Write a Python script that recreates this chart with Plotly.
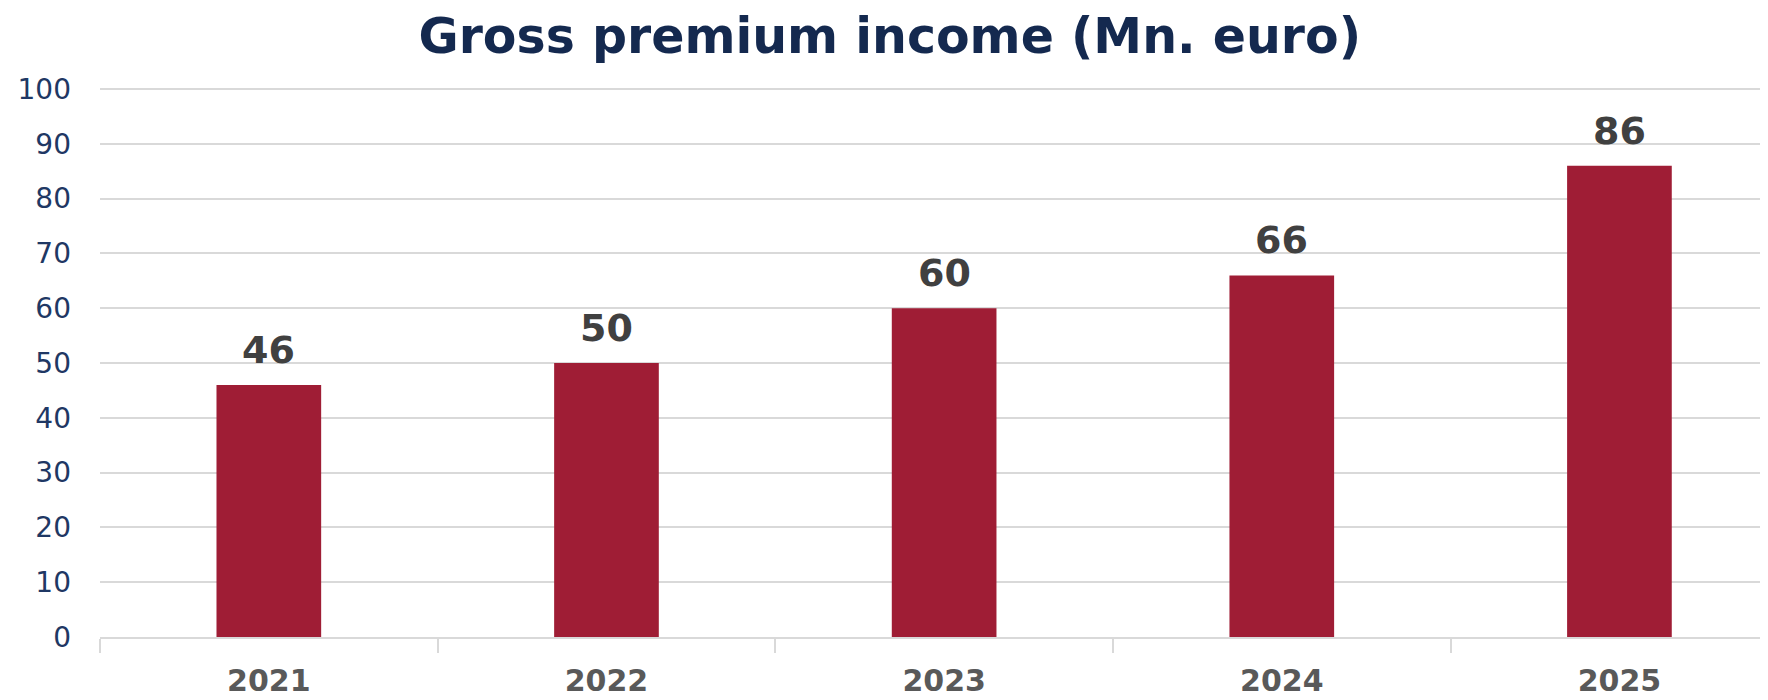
import plotly.graph_objects as go

years = ["2021", "2022", "2023", "2024", "2025"]
premium = [46, 50, 60, 66, 86]
y_ticks = [0, 10, 20, 30, 40, 50, 60, 70, 80, 90, 100]

bar_color = "#9F1D35"
title_color = "#14294F"
font_family = "DejaVu Sans, sans-serif"

fig = go.Figure()
fig.add_trace(go.Bar(
    x=years, y=premium, width=0.31,
    marker=dict(color=bar_color, line=dict(width=0)),
    hoverinfo="skip",
))

for i, v in enumerate(premium):
    fig.add_annotation(
        x=i, y=v, text=f"<b>{v}</b>", showarrow=False,
        yanchor="bottom", yshift=11,
        font=dict(family=font_family, size=38, color="#404040"),
    )

fig.update_layout(
    width=1760, height=692,
    paper_bgcolor="white", plot_bgcolor="white",
    margin=dict(l=92, r=0, t=80, b=63, autoexpand=False),
    showlegend=False,
    title=dict(
        text="<b>Gross premium income (Mn. euro)</b>",
        x=0.501, xanchor="center", y=0.9595, yanchor="middle",
        font=dict(family=font_family, size=49, color=title_color),
    ),
)
fig.update_xaxes(
    type="category",
    range=[-0.5, 4.44],
    showline=True, linecolor="#D9D9D9", linewidth=2,
    ticks="outside", tickson="boundaries", ticklen=14, tickcolor="#D9D9D9", tickwidth=2,
    tickfont=dict(family=font_family, size=30, color="#595959", weight="bold"),
    ticklabelstandoff=16,
    showgrid=False,
)
fig.update_yaxes(
    range=[0, 100.2], tickvals=y_ticks,
    showgrid=True, gridcolor="#D9D9D9", gridwidth=2,
    zeroline=False,
    tickfont=dict(family=font_family, size=28, color="#1F3864"),
    ticks="", ticklabelstandoff=28,
)

fig.write_html("out.html")
